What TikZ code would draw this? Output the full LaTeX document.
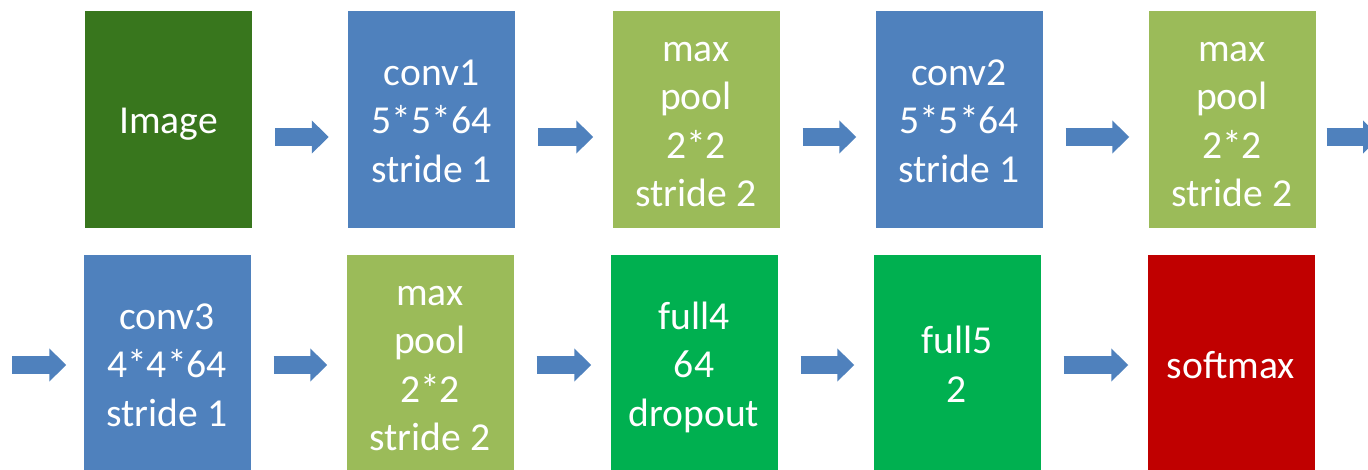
\documentclass[tikz,border=0pt]{standalone}
\usepackage{fontspec}
\setmainfont{Carlito}
\usetikzlibrary{arrows.meta}

\definecolor{imggreen}{RGB}{56,118,29}
\definecolor{convblue}{RGB}{79,129,189}
\definecolor{poolgreen}{RGB}{155,187,89}
\definecolor{fullgreen}{RGB}{0,176,80}
\definecolor{softred}{RGB}{192,0,0}

\newcommand{\linestrut}{\rule[-9.6pt]{0pt}{48.2pt}}

\begin{document}
\begin{tikzpicture}[
  x=1pt,
  y=-1pt,
]

  \tikzstyle{layer}=[rectangle,minimum width=167pt,minimum height=217pt,inner sep=0pt,text width=167pt,text=white,align=flush center,node distance=263pt,font=\fontsize{39.6}{48.2}\selectfont,execute at begin node=\linestrut,execute at end node=\linestrut]
  \tikzstyle{imgnode}=[layer,fill=imggreen]
  \tikzstyle{convnode}=[layer,fill=convblue]
  \tikzstyle{poolnode}=[layer,fill=poolgreen]
  \tikzstyle{fullnode}=[layer,fill=fullgreen]
  \tikzstyle{softnode}=[layer,fill=softred]

  \tikzstyle{pointer}=[draw=convblue,line width=18pt,-{Triangle[length=17pt,width=32pt]},shorten <=23pt,shorten >=19pt]

  \useasboundingbox (0,0) rectangle (1368,470);

  % top row
  \node[imgnode] (img) at (168.5,119.5) {Image};
  \node[convnode] (conv1) [right of=img] {conv1\\5*5*64\\stride 1};
  \node[poolnode] (pool1) [right of=conv1, xshift=1.5pt] {max\\pool\\2*2\\stride 2};
  \node[convnode] (conv2) [right of=pool1] {conv2\\5*5*64\\stride 1};
  \node[poolnode] (pool2) [right of=conv2, xshift=10pt] {max\\pool\\2*2\\stride 2};

  % bottom row
  \node[convnode] (conv3) at (167,363.5) {conv3\\4*4*64\\stride 1};
  \node[poolnode] (pool3) [right of=conv3] {max\\pool\\2*2\\stride 2};
  \node[fullnode] (full4) [right of=pool3, xshift=1pt] {full4\\64\\dropout};
  \node[fullnode] (full5) [right of=full4] {full5\\2};
  \node[softnode] (soft) [right of=full5, xshift=11pt] {softmax};

  \coordinate (wrapout) at (1380,137);
  \coordinate (wrapin) at (12,365);

  % arrows
  \draw[pointer] ([yshift=-17.5pt]img.east)   -- ([yshift=-17.5pt]conv1.west);
  \draw[pointer] ([yshift=-17.5pt]conv1.east) -- ([yshift=-17.5pt]pool1.west);
  \draw[pointer] ([yshift=-17.5pt]pool1.east) -- ([yshift=-17.5pt]conv2.west);
  \draw[pointer] ([yshift=-17.5pt]conv2.east) -- ([yshift=-17.5pt]pool2.west);
  \draw[pointer,shorten <=11pt,shorten >=0pt] ([yshift=-17.5pt]pool2.east) -- (wrapout);

  \draw[pointer,shorten <=0pt,shorten >=17pt] (wrapin) -- ([yshift=-1.5pt]conv3.west);
  \draw[pointer] ([yshift=-1.5pt]conv3.east) -- ([yshift=-1.5pt]pool3.west);
  \draw[pointer] ([yshift=-1.5pt]pool3.east) -- ([yshift=-1.5pt]full4.west);
  \draw[pointer] ([yshift=-1.5pt]full4.east) -- ([yshift=-1.5pt]full5.west);
  \draw[pointer] ([yshift=-1.5pt]full5.east) -- ([yshift=-1.5pt]soft.west);

\end{tikzpicture}
\end{document}
